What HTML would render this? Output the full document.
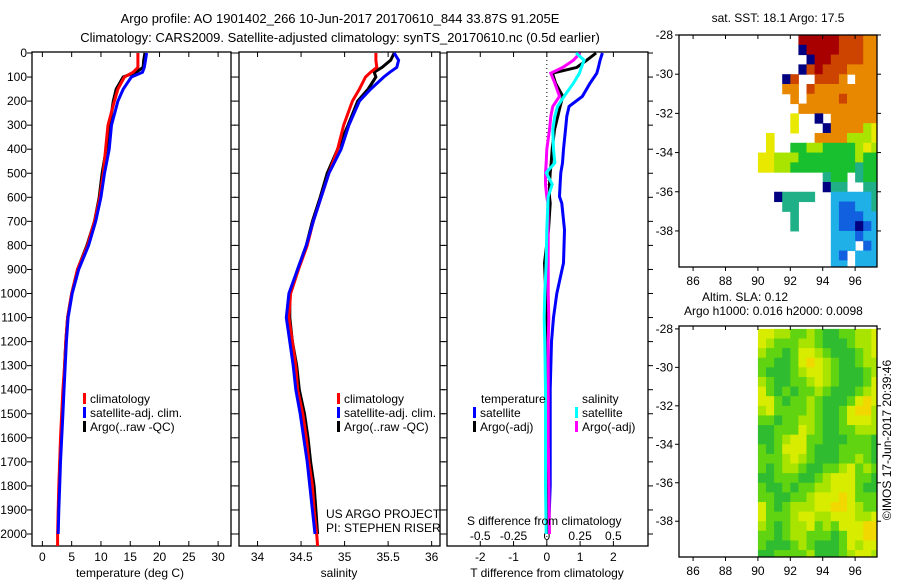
<!DOCTYPE html>
<html><head><meta charset="utf-8"><style>
body{margin:0;background:#fff;}
svg{display:block;font-family:"Liberation Sans",sans-serif;}
</style></head><body>
<svg id="fig" width="900" height="580" viewBox="0 0 900 580" xmlns="http://www.w3.org/2000/svg">
<text x="340" y="23" font-size="13" text-anchor="middle">Argo profile: AO 1901402_266 10-Jun-2017 20170610_844 33.87S 91.205E</text>
<text x="340" y="42" font-size="13" text-anchor="middle">Climatology: CARS2009. Satellite-adjusted climatology: synTS_20170610.nc (0.5d earlier)</text>
<text x="778" y="22" font-size="12" text-anchor="middle">sat. SST: 18.1 Argo: 17.5</text>
<text x="702" y="301" font-size="12">Altim. SLA: 0.12</text>
<text x="684" y="315" font-size="12">Argo h1000: 0.016 h2000: 0.0098</text>
<text transform="translate(891,440) rotate(-90)" font-size="12" text-anchor="middle">©IMOS 17-Jun-2017 20:39:46</text>
</svg>
<script>
// ---- profile data ----
const depths = [0,30,60,80,100,150,200,300,400,500,600,700,800,900,1000,1100,1200,1300,1400,1500,1600,1700,1800,1900,2000,2050];
const tempClim = [16.3,16.3,16.3,15.5,14.0,12.9,12.3,11.2,10.8,10.4,9.8,8.9,7.7,6.0,5.0,4.3,4.0,3.8,3.5,3.3,3.1,2.95,2.8,2.7,2.6,2.6];
const tempSat = [17.8,17.6,17.4,17.1,15.2,13.8,12.9,11.8,11.4,10.6,10.0,9.1,7.9,6.2,5.1,4.4,4.1,3.9,3.7,3.5,3.3,3.1,2.95,2.8,2.7,null];
const tempArgo = [17.5,17.3,17.2,16.0,13.8,12.6,12.1,11.5,10.9,10.2,9.7,8.9,7.6,6.0,5.0,4.3,4.0,3.8,3.6,3.4,3.2,3.0,2.85,2.75,2.65,null];
const salClim = [35.36,35.36,35.37,35.30,35.24,35.17,35.09,34.99,34.92,34.82,34.73,34.64,34.57,34.47,34.38,34.36,34.40,34.44,34.46,34.52,34.56,34.59,34.63,34.65,34.68,34.69];
const salSat = [35.57,35.62,35.60,35.52,35.45,35.30,35.17,35.05,34.96,34.82,34.73,34.64,34.56,34.46,34.36,34.33,34.37,34.41,34.44,34.49,34.53,34.57,34.60,34.63,34.66,null];
const salArgo = [35.57,35.53,35.43,35.34,35.36,35.27,35.15,35.04,34.92,34.80,34.72,34.63,34.56,34.46,34.37,34.37,34.40,34.45,34.48,34.54,34.58,34.61,34.65,34.67,34.69,null];
const diffDepths = [0,30,60,84,125,180,222,263,319,400,457,498,546,597,625,735,873,1000,1100,1200,1400,1600,1800,2000];
const tDiffSat = [1.67,1.6,1.55,1.5,1.3,1.07,0.67,0.6,0.56,0.5,0.47,0.42,0.4,0.38,0.45,0.53,0.5,0.3,0.2,0.14,0.1,0.1,0.1,0.05];
const tDiffArgo = [1.48,1.2,0.9,0.17,0.26,0.48,0.4,0.33,0.23,0.16,0.13,0.1,0.08,0.08,0.1,0.05,-0.07,-0.03,0,0.02,0.01,0,0,0];
const sDiffSat = [0.22,0.28,0.26,0.245,0.2,0.13,0.08,0.06,0.045,0.05,0.06,-0.005,0.04,0.01,0.008,0.0,-0.005,-0.015,-0.02,-0.015,-0.01,-0.01,-0.01,-0.005];
const sDiffArgo = [0.25,0.2,0.12,0.03,0.06,0.095,0.045,0.03,0.02,0.0,-0.005,-0.01,-0.01,0.0,0.008,0.01,0.01,0.01,0.015,0.01,0.01,0.01,0.015,0.02];
const depthTicks = [0,100,200,300,400,500,600,700,800,900,1000,1100,1200,1300,1400,1500,1600,1700,1800,1900,2000];
const tempTicks = [0,5,10,15,20,25,30];
const salTicks = [34,34.5,35,35.5,36];
const tDiffTicks = [-2,-1,0,1,2];
const sDiffTicks = [-0.5,-0.25,0,0.25,0.5];
const sstLatTicks = [-28,-30,-32,-34,-36,-38];
const lonTicks = [86,88,90,92,94,96];
// SST grid (0.5 deg cells, lon 90..97.5, lat -28..-40)
const sstRows = [
".....RRRRRrrroo",
".....nRRRRrrroo",
"......nRRrrrroo",
".....nrRrrroooo",
"...nr..rrro.ooo",
"...oo.roooooooo",
"....o.ooooroooo",
".....oooooooooo",
"....y..n.oooooo",
"....y...noooogy",
".y.....oooogggy",
".y..GGggGGGGgyg",
"yygggGGGGGGGgGG",
"yyggGGGGGGGGtGG",
"........tGG.tGG",
"........ntt..tt",
"..ntttt..ccccct",
"...tt....cbbcct",
"....t....cbbbcc",
"....t....cbbnbc",
".........cccbcc",
".........ccc.bc",
".........cb.ccc",
".........cc.ccc"];
const slaRows = [
"yyllgglgGGgglly",
"ylgggllgGGGglly",
"lggGgyylgGGGgly",
"ggGGgyYylgGGgll",
"gGGGglyylgGGGgl",
"lgGGgglylgGGGgy",
"ygGgGgglgGGGgly",
"yygGgglgGGGgyYy",
"lygggglgGGgyYYl",
"ggGggllgGGgyyyl",
"GGgggylgGGgglll",
"GGglyyggGGGgggG",
"gGgyyygGGGggggG",
"ggglylgGGGgglgG",
"gGgllgGGgglyglg",
"GGgggGGglyyyggG",
"gGGgGggllyyygGG",
"ggGGgglyyyYyggg",
"ygGglllyyYYylgg",
"yggglyyllyyylly",
"lgGgllyglgyyyYY",
"ggGgllgggGgyyYY",
"gGGGglgGGGgylyy",
"GGgggglGGGglyyl"];

const svg = document.getElementById('fig');
const NS = 'http://www.w3.org/2000/svg';
function mk(tag, attrs, parent){ const e=document.createElementNS(NS,tag); for(const k in attrs) e.setAttribute(k,attrs[k]); (parent||svg).appendChild(e); return e; }

const yTop=52, yBot=546;
const depthY = d => 53 + d*0.2405;
const panels = [
 {name:'temperature', x0:32, x1:231, v0:-1.77, v1:32.2},
 {name:'salinity', x0:239, x1:440, v0:33.787, v1:36.096},
 {name:'difference', x0:447, x1:648, v0:-3.0, v1:3.04}
];
function xScale(p){ return v => p.x0 + (v-p.v0)/(p.v1-p.v0)*(p.x1-p.x0); }

panels.forEach((p,i)=>{
  const g = mk('g',{});
  
  
  const r = mk('rect',{x:p.x0,y:yTop,width:p.x1-p.x0,height:yBot-yTop,fill:'none',stroke:'#000','stroke-width':1.3},g);
  
  
  depthTicks.forEach(d=>{
    const y=depthY(d);
    mk('line',{x1:p.x0-5,y1:y,x2:p.x0,y2:y,stroke:'#000'},g);
    mk('line',{x1:p.x1,y1:y,x2:p.x1+5,y2:y,stroke:'#000'},g);
    if(i===0){
      const t=mk('text',{x:p.x0-5,y:y+4,'font-size':12,'text-anchor':'end'},g);
      t.textContent=d;
      
      
    }
  });
});

function drawPolyline(p, vals, dep, color, name, sw){
  const xs = xScale(p);
  const pts=[];
  vals.forEach((v,k)=>{ if(v!==null) pts.push(xs(v).toFixed(1)+','+depthY(dep[k]).toFixed(1)); });
  const l = mk('polyline',{points:pts.join(' '),fill:'none',stroke:color,'stroke-width':sw||3,'stroke-linejoin':'miter'});
  
  
}
function xTicks(p, ticks, scaleFn, yLine, yLab, nm, up){
  ticks.forEach(v=>{
    const x=scaleFn(v);
    mk('line',{x1:x,y1:yTop,x2:x,y2:yTop+5,stroke:'#000'});
    if(!up) mk('line',{x1:x,y1:yBot,x2:x,y2:yBot-5,stroke:'#000'});
    const t=mk('text',{x:x,y:yLab,'font-size':12,'text-anchor':'middle'});
    t.textContent=v;
    
    
  });
}
// panel 1
const P1=panels[0], X1=xScale(P1);
xTicks(P1,tempTicks,X1,yBot,561,'temperature-tick-label');
drawPolyline(P1,tempArgo,depths,'#000','temp-argo-line');
drawPolyline(P1,tempClim,depths,'#f00','temp-climatology-line');
drawPolyline(P1,tempSat,depths,'#00f','temp-satellite-line');
// panel 2
const P2=panels[1], X2=xScale(P2);
xTicks(P2,salTicks,X2,yBot,561,'salinity-tick-label');
drawPolyline(P2,salArgo,depths,'#000','sal-argo-line');
drawPolyline(P2,salClim,depths,'#f00','sal-climatology-line');
drawPolyline(P2,salSat,depths,'#00f','sal-satellite-line');
// panel 3
const P3=panels[2], X3=xScale(P3);
xTicks(P3,tDiffTicks,X3,yBot,561,'t-diff-tick-label');
sDiffTicks.forEach(v=>{
  const t=mk('text',{x:X3(v*4),y:540,'font-size':12,'text-anchor':'middle'});
  t.textContent=v;
  
  
});
const zl=mk('line',{x1:X3(0),y1:yTop,x2:X3(0),y2:yBot,stroke:'#000','stroke-dasharray':'1,3'});


drawPolyline(P3,tDiffSat,diffDepths,'#00f','t-diff-satellite-line');
drawPolyline(P3,tDiffArgo,diffDepths,'#000','t-diff-argo-line');
drawPolyline(P3,sDiffArgo.map(v=>v*4),diffDepths,'#f0f','s-diff-argo-line');
drawPolyline(P3,sDiffSat.map(v=>v*4),diffDepths,'#0ff','s-diff-satellite-line');

// axis titles & legends
function txt(x,y,s,nm,anchor,size){ const t=mk('text',{x:x,y:y,'font-size':size||12,'text-anchor':anchor||'start'}); t.textContent=s;   return t; }
txt(130,577,'temperature (deg C)','temperature-axis-title','middle');
txt(339,577,'salinity','salinity-axis-title','middle');
txt(547,577,'T difference from climatology','t-diff-axis-title','middle');
txt(467,525,'S difference from climatology','s-diff-axis-title');
function legend(x,y,color,label,nm){
  const m=mk('rect',{x:x,y:y-10,width:3,height:11,fill:color});
  
  
  txt(x+7,y,label,nm+'-label');
}
legend(83,403,'#f00','climatology','legend-climatology');
legend(83,417,'#00f','satellite-adj. clim.','legend-satellite');
legend(83,431,'#000','Argo(..raw -QC)','legend-argo');
legend(337,403,'#f00','climatology','legend2-climatology');
legend(337,417,'#00f','satellite-adj. clim.','legend2-satellite');
legend(337,431,'#000','Argo(..raw -QC)','legend2-argo');
txt(481,403,'temperature','legend-temperature-header');
txt(582,403,'salinity','legend-salinity-header');
legend(473,417,'#00f','satellite','legend-t-satellite');
legend(473,431,'#000','Argo(-adj)','legend-t-argo');
legend(575,417,'#0ff','satellite','legend-s-satellite');
legend(575,431,'#f0f','Argo(-adj)','legend-s-argo');
txt(326,518,'US ARGO PROJECT','project-credit');
txt(326,532,'PI: STEPHEN RISER','pi-credit');

// maps
const colors = {R:'#a80000',r:'#cc4400',o:'#e88800',y:'#e8e800',g:'#a8e400',G:'#18c030',t:'#20b088',c:'#20b0e8',b:'#1060e0',n:'#000080'};
const slaColors = {Y:'#f0d800',y:'#d8ec00',l:'#a8e400',g:'#60d410',G:'#30bc30'};
function drawMap(m, rows, cmap, name){
  const lonX = lon => m.x0 + (lon-m.l0)/(m.l1-m.l0)*(m.x1-m.x0);
  const latY = lat => m.y0 + (m.a0-lat)/(m.a0-m.a1)*(m.y1-m.y0);
  const g=mk('g',{});
  
  
  const cp=mk('clipPath',{id:name+'-clip'},g);
  mk('rect',{x:m.x0,y:m.y0,width:m.x1-m.x0,height:m.y1-m.y0},cp);
  const cg=mk('g',{'clip-path':'url(#'+name+'-clip)'},g);
  rows.forEach((row,ri)=>{
    for(let ci=0;ci<row.length;ci++){
      const c=row[ci]; if(c==='.') continue;
      const x=lonX(90+ci*0.5), y=latY(-28-ri*0.5);
      mk('rect',{x:x,y:y,width:lonX(90.5)-lonX(90)+0.5,height:latY(-28.5)-latY(-28)+0.5,fill:cmap[c]},cg);
    }
  });
  mk('rect',{x:m.x0,y:m.y0,width:m.x1-m.x0,height:m.y1-m.y0,fill:'none',stroke:'#000','stroke-width':1.3},g);
  m.latTicks.forEach(v=>{
    const y=latY(v);
    mk('line',{x1:m.x0-4,y1:y,x2:m.x0,y2:y,stroke:'#000'},g);
    mk('line',{x1:m.x1,y1:y,x2:m.x1+4,y2:y,stroke:'#000'},g);
    const t=mk('text',{x:m.x0-6,y:y+4,'font-size':12,'text-anchor':'end'},g); t.textContent=v;
    
    
  });
  lonTicks.forEach(v=>{
    const x=lonX(v);
    mk('line',{x1:x,y1:m.y0,x2:x,y2:m.y0+4,stroke:'#000'},g);
    mk('line',{x1:x,y1:m.y1,x2:x,y2:m.y1+4,stroke:'#000'},g);
    const t=mk('text',{x:x,y:m.y1+18,'font-size':12,'text-anchor':'middle'},g); t.textContent=v;
    
    
  });
}
drawMap({x0:679,x1:877,y0:35,y1:267,l0:85.13,l1:97.35,a0:-28,a1:-39.84,latTicks:sstLatTicks},sstRows,colors,'sst-map');
drawMap({x0:679,x1:877,y0:326,y1:557,l0:85.13,l1:97.35,a0:-27.85,a1:-39.86,latTicks:sstLatTicks},slaRows,slaColors,'sla-map');
</script>
</body></html>
